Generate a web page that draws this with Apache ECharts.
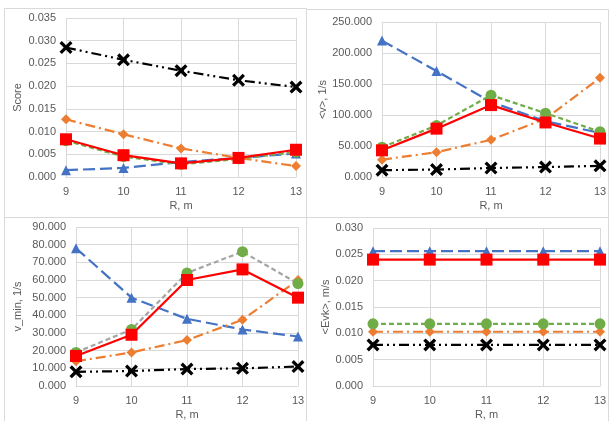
<!DOCTYPE html>
<html>
<head>
<meta charset="utf-8">
<script src="https://cdn.jsdelivr.net/npm/echarts@6/dist/echarts.min.js"></script>
<style>
  html, body { margin: 0; padding: 0; background: #fff; }
  #chart { width: 611px; height: 421px; }
</style>
</head>
<body>
<div id="chart"></div>
<script>
// x values, shared by all four panels
var rValues = [9, 10, 11, 12, 13];

// panel 1: Score
var scoreTriangle = [0.0015, 0.002, 0.0033, 0.0042, 0.0052];
var scoreDiamond = [0.0127, 0.0094, 0.0063, 0.0042, 0.0024];
var scoreCircle = [0.008, 0.0045, 0.0028, 0.004, 0.0055];
var scoreSquare = [0.0083, 0.0048, 0.003, 0.0042, 0.006];
var scoreCross = [0.0285, 0.0258, 0.0234, 0.0213, 0.0198];

// panel 2: <v>, 1/s
var vTriangle = [220, 171, 121, 90, 71];
var vDiamond = [28, 40, 60, 94, 160];
var vCircle = [48, 83, 132, 103, 73];
var vSquare = [43, 78, 116, 88, 62];
var vCross = [11, 12, 14.5, 16, 18];

// panel 3: v_min, 1/s
var vminTriangle = [78, 50, 38, 32, 28];
var vminDiamond = [14, 19, 26, 37.5, 60];
var vminCircle = [19, 32, 64, 76, 58];
var vminSquare = [17, 29, 60, 66, 50];
var vminCross = [8, 8.5, 9.6, 10, 11];

// panel 4: <Evk>, m/s
var evkTriangle = [0.0256, 0.0256, 0.0256, 0.0256, 0.0256];
var evkDiamond = [0.0103, 0.0103, 0.0103, 0.0103, 0.0103];
var evkCircle = [0.0118, 0.0118, 0.0118, 0.0118, 0.0118];
var evkSquare = [0.024, 0.024, 0.024, 0.024, 0.024];
var evkCross = [0.0078, 0.0078, 0.0078, 0.0078, 0.0078];

var yNames = ['Score', '<v>, 1/s', 'v_min, 1/s', '<Evk>, m/s'];
var yMax = [0.035, 250, 90, 0.03];
var yStep = [0.005, 50, 10, 0.005];

var xSymbol = 'path://M0,1.8L1.8,0L5,3.2L8.2,0L10,1.8L6.8,5L10,8.2L8.2,10L5,6.8L1.8,10L0,8.2L3.2,5Z';
var gridColor = '#d9d9d9';
var textColor = '#595959';
var fontFamily = 'Liberation Sans, Arial, sans-serif';

var grids = [
  { left: 66, top: 18, width: 230, height: 159 },
  { left: 382, top: 22, width: 218, height: 155 },
  { left: 76, top: 227, width: 222, height: 160 },
  { left: 373, top: 228, width: 227, height: 159 }
];
var yNameGap = [43, 51, 53, 41];

var panels = [
  [scoreTriangle, scoreDiamond, scoreCircle, scoreSquare, scoreCross],
  [vTriangle, vDiamond, vCircle, vSquare, vCross],
  [vminTriangle, vminDiamond, vminCircle, vminSquare, vminCross],
  [evkTriangle, evkDiamond, evkCircle, evkSquare, evkCross]
];

function pairs(vals) {
  return rValues.map(function (r, i) { return [r, vals[i]]; });
}

var xAxes = [], yAxes = [], series = [];
grids.forEach(function (g, k) {
  xAxes.push({
    gridIndex: k, type: 'value', min: 9, max: 13, interval: 1,
    name: 'R, m', nameLocation: 'middle', nameGap: 23,
    nameTextStyle: { color: textColor, fontSize: 11, fontFamily: fontFamily },
    axisLine: { show: true, lineStyle: { color: gridColor } },
    axisTick: { show: false },
    axisLabel: { color: textColor, fontSize: 11, fontFamily: fontFamily, margin: 9 },
    splitLine: { show: true, lineStyle: { color: gridColor } }
  });
  yAxes.push({
    gridIndex: k, type: 'value', min: 0, max: yMax[k], interval: yStep[k],
    name: yNames[k], nameLocation: 'middle', nameGap: yNameGap[k],
    nameTextStyle: { color: textColor, fontSize: 11, fontFamily: fontFamily },
    axisLine: { show: false },
    axisTick: { show: false },
    axisLabel: {
      color: textColor, fontSize: 11, fontFamily: fontFamily, margin: 10,
      formatter: function (v) { return v.toFixed(3); }
    },
    splitLine: { show: true, lineStyle: { color: gridColor } }
  });

  var d = panels[k];
  series.push({
    name: 'triangle', type: 'line', xAxisIndex: k, yAxisIndex: k, data: pairs(d[0]),
    symbol: 'triangle', symbolSize: 10, itemStyle: { color: '#4472C4' },
    lineStyle: { color: '#4472C4', width: 2.2, type: [12, 5] }
  });
  series.push({
    name: 'diamond', type: 'line', xAxisIndex: k, yAxisIndex: k, data: pairs(d[1]),
    symbol: 'diamond', symbolSize: 10, itemStyle: { color: '#ED7D31' },
    lineStyle: { color: '#ED7D31', width: 2.2, type: [10, 4, 2, 4] }
  });
  series.push({
    name: 'circle', type: 'line', xAxisIndex: k, yAxisIndex: k, data: pairs(d[2]),
    symbol: 'circle', symbolSize: 11, itemStyle: { color: '#70AD47' },
    lineStyle: { color: k === 2 ? '#A5A5A5' : '#70AD47', width: 2.2, type: [5, 3] }
  });
  series.push({
    name: 'square', type: 'line', xAxisIndex: k, yAxisIndex: k, data: pairs(d[3]),
    symbol: 'rect', symbolSize: 12, itemStyle: { color: '#FF0000' },
    lineStyle: { color: '#FF0000', width: 2.2 }
  });
  series.push({
    name: 'cross', type: 'line', xAxisIndex: k, yAxisIndex: k, data: pairs(d[4]),
    symbol: xSymbol, symbolSize: 13, itemStyle: { color: '#000000' },
    lineStyle: { color: '#000000', width: 2.2, type: [10, 4, 2, 4, 2, 4] }
  });
});

var chart = echarts.init(document.getElementById('chart'));
chart.setOption({
  backgroundColor: '#fff',
  animation: false,
  grid: grids,
  xAxis: xAxes,
  yAxis: yAxes,
  series: series,
  graphic: [
    { type: 'rect', shape: { x: 4.5, y: 8.5, width: 302, height: 209 }, style: { fill: 'none', stroke: gridColor, lineWidth: 1 }, z: -1 },
    { type: 'rect', shape: { x: 306.5, y: 9.5, width: 302, height: 208 }, style: { fill: 'none', stroke: gridColor, lineWidth: 1 }, z: -1 },
    { type: 'rect', shape: { x: 4.5, y: 217.5, width: 302, height: 210 }, style: { fill: 'none', stroke: gridColor, lineWidth: 1 }, z: -1 },
    { type: 'rect', shape: { x: 306.5, y: 217.5, width: 302, height: 210 }, style: { fill: 'none', stroke: gridColor, lineWidth: 1 }, z: -1 }
  ]
});
</script>
</body>
</html>
